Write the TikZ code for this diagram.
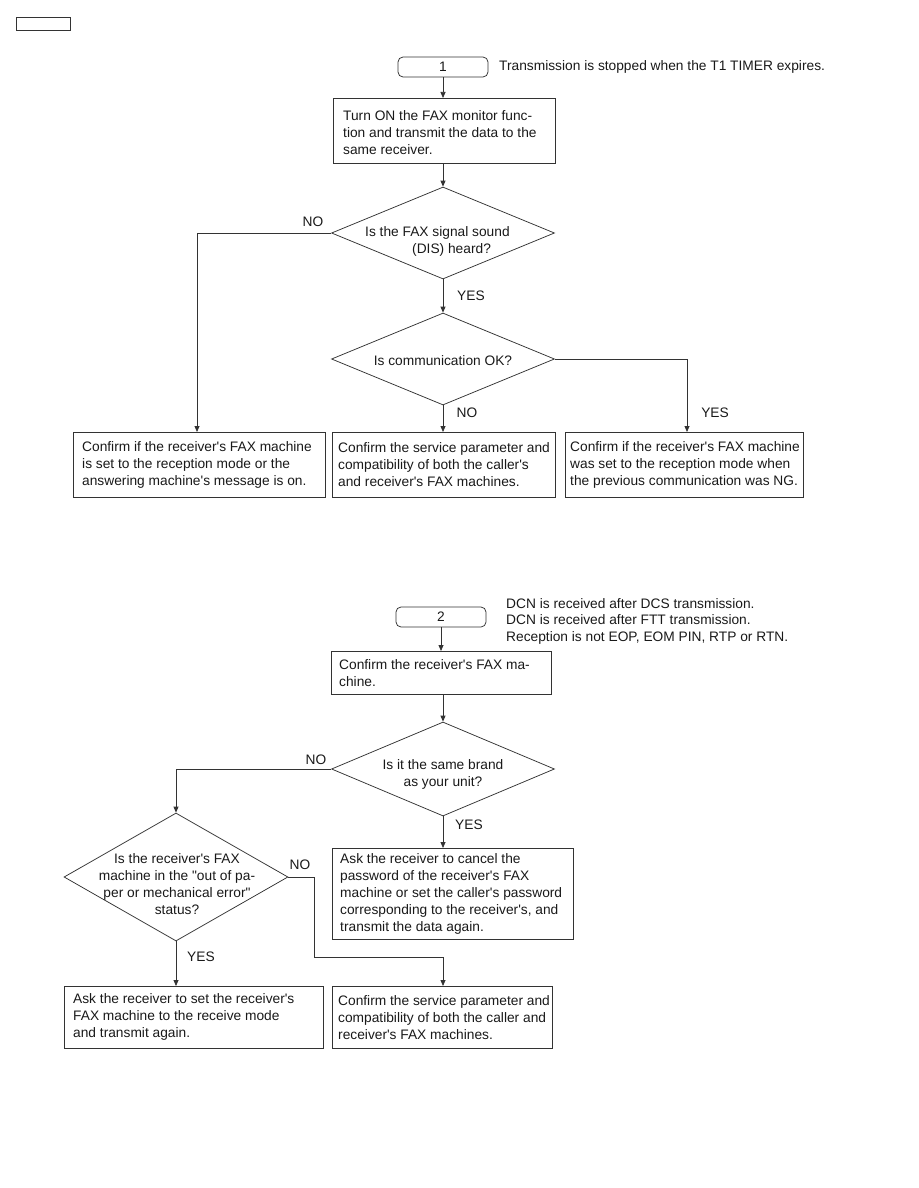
\documentclass[tikz,border=0pt]{standalone}
\usepackage{fontspec}
\setmainfont{Liberation Sans}
\usetikzlibrary{shapes.geometric,arrows.meta}
\newcommand\ap{\textquotesingle}
\begin{document}
\begin{tikzpicture}[x=1pt,y=-1pt,
  lc/.style={draw=black!80, line width=0.75pt},
  txt/.style={font=\fontsize{13.75}{17}\selectfont, text=black!90},
  box/.style={lc, anchor=north west, inner sep=0pt},
  btxt/.style={txt, anchor=west, align=left, inner sep=0pt},
  term/.style={lc, txt, rounded corners=5pt, minimum width=90pt, minimum height=20pt, inner sep=0pt},
  dia/.style={lc, shape=diamond, minimum width=223pt, minimum height=92pt, inner sep=0pt},
  lbl/.style={txt, inner sep=0pt},
  arr/.style={lc, -{Triangle[length=6pt,width=5pt]}}]
\useasboundingbox (0,0) rectangle (918,1188);
\node[lc, minimum width=54pt, minimum height=13pt, inner sep=0pt, anchor=north west] (tag) at (16,17) {};

% ---------- chart 1 ----------
\node[term] (t1) at (443,67) {1};
\node[lbl, anchor=west] (n1) at (499,67) {Transmission is stopped when the T1 TIMER expires.};
\node[box, minimum width=222pt, minimum height=65pt] (b1) at (333,98) {};
\node[btxt] (b1t) at ([xshift=10pt,yshift=-2pt]b1.west) {Turn ON the FAX monitor func-\\tion and transmit the data to the\\same receiver.};
\node[dia] (d1) at (443,233) {};
\node[lbl, anchor=west, align=left] (d1t) at (365,241) {Is the FAX signal sound\\\hspace*{47pt}(DIS) heard?};
\node[dia] (d2) at (443,359) {};
\node[lbl] (d2t) at (443,361) {Is communication OK?};
\node[box, minimum width=252pt, minimum height=65pt] (bA) at (73,432) {};
\node[btxt] (bAt) at ([xshift=9pt]bA.west) {Confirm if the receiver\ap s FAX machine\\is set to the reception mode or the\\answering machine\ap s message is on.};
\node[box, minimum width=223pt, minimum height=65pt] (bB) at (332,432) {};
\node[btxt] (bBt) at ([xshift=6pt]bB.west) {Confirm the service parameter and\\compatibility of both the caller\ap s\\and receiver\ap s FAX machines.};
\node[box, minimum width=238pt, minimum height=65pt] (bC) at (565,432) {};
\node[btxt] (bCt) at ([xshift=5pt]bC.west) {Confirm if the receiver\ap s FAX machine\\was set to the reception mode when\\the previous communication was NG.};

\draw[arr] (t1.south) -- (t1.south |- b1.north);
\draw[arr] (b1.south -| d1.north) -- (d1.north);
\draw[arr] (d1.south) -- (d2.north);
\coordinate (c1) at (197,233);
\draw[arr] (d1.west) -- (c1) -- (c1 |- bA.north);
\draw[arr] (d2.south) -- (d2.south |- bB.north);
\coordinate (c2) at (687,359);
\draw[arr] (d2.east) -- (c2) -- (c2 |- bC.north);
\node[lbl] (l1) at (313,222) {NO};
\node[lbl] (l2) at (471,296) {YES};
\node[lbl] (l3) at (467,413) {NO};
\node[lbl] (l4) at (715,413) {YES};

% ---------- chart 2 ----------
\node[term] (t2) at (441,617) {2};
\node[lbl, anchor=north west, align=left, font=\fontsize{13.75}{16.5}\selectfont] (n2) at (506,598) {DCN is received after DCS transmission.\\DCN is received after FTT transmission.\\Reception is not EOP, EOM PIN, RTP or RTN.};
\node[box, minimum width=220pt, minimum height=43pt] (b2) at (331,651) {};
\node[btxt] (b2t) at ([xshift=8pt]b2.west) {Confirm the receiver\ap s FAX ma-\\chine.};
\node[dia, minimum height=94pt] (d3) at (443,769) {};
\node[lbl, align=center] (d3t) at (443,774) {Is it the same brand\\as your unit?};
\node[dia, minimum width=224pt, minimum height=128pt] (d4) at (176,877) {};
\node[lbl, align=center] (d4t) at (177,884) {Is the receiver\ap s FAX\\machine in the \textquotedbl out of pa-\\per or mechanical error\textquotedbl\\status?};
\node[box, minimum width=241pt, minimum height=91pt] (b3) at (332,848) {};
\node[btxt] (b3t) at ([xshift=8pt]b3.west) {Ask the receiver to cancel the\\password of the receiver\ap s FAX\\machine or set the caller\ap s password\\corresponding to the receiver\ap s, and\\transmit the data again.};
\node[box, minimum width=259pt, minimum height=62pt] (b4) at (64,986) {};
\node[btxt] (b4t) at ([xshift=9pt]b4.west) {Ask the receiver to set the receiver\ap s\\FAX machine to the receive mode\\and transmit again.};
\node[box, minimum width=220pt, minimum height=62pt] (b5) at (332,986) {};
\node[btxt] (b5t) at ([xshift=6pt]b5.west) {Confirm the service parameter and\\compatibility of both the caller and\\receiver\ap s FAX machines.};

\draw[arr] (t2.south) -- (t2.south |- b2.north);
\draw[arr] (b2.south -| d3.north) -- (d3.north);
\draw[arr] (d3.south) -- (d3.south |- b3.north);
\coordinate (c3) at (176,769);
\draw[arr] (d3.west) -- (c3) -- (d4.north);
\draw[arr] (d4.south) -- (d4.south |- b4.north);
\coordinate (c4) at (314,877);
\coordinate (c5) at (314,957);
\coordinate (c6) at (443,957);
\draw[arr] (d4.east) -- (c4) -- (c5) -- (c6) -- (c6 |- b5.north);
\node[lbl] (l5) at (316,760) {NO};
\node[lbl] (l6) at (469,825) {YES};
\node[lbl] (l7) at (300,865) {NO};
\node[lbl] (l8) at (201,957) {YES};
\end{tikzpicture}
\end{document}
